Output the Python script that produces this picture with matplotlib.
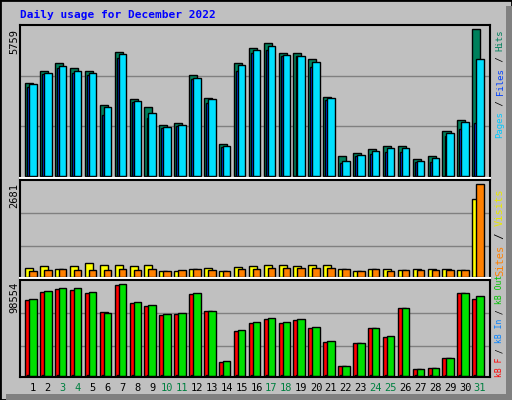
import matplotlib
matplotlib.use("Agg")
import matplotlib.pyplot as plt
from matplotlib.patches import Rectangle

days = list(range(1, 32))
weekend = [3, 4, 10, 11, 17, 18, 24, 25, 31]
hits = [3632,4102,4416,4220,4102,2770,4847,3005,2692,1986,2065,3945,3044,1242,4416,5003,
        5199,4807,4807,4572,3083,784,889,1046,1175,1175,654,784,1763,2182,5759]
files = [3593,4024,4310,4114,4024,2692,4768,2927,2457,1920,1986,3840,3005,1164,4337,4925,
         5082,4729,4690,4455,3044,576,811,968,1085,1085,576,693,1673,2104,4572]
pages = [3475,3996,4220,4024,3957,2378,4612,2888,2261,1869,1959,3812,2848,1124,4114,4807,
         4937,4690,4690,4259,2978,498,772,850,929,929,537,537,1555,1830,2065]
visits = [241,299,212,299,386,328,328,299,328,154,154,212,241,154,270,299,328,328,299,328,
          328,212,154,212,212,183,212,212,212,183,2236]
sites = [154,183,212,183,183,183,212,183,212,154,183,212,183,154,212,212,241,241,241,241,
         241,212,154,212,154,183,183,183,183,183,2681]
kbf = [81292,89925,93162,92083,88846,68343,97475,78055,74818,65106,66185,87767,69422,14388,
       47840,56473,60789,56473,59710,51077,35970,10071,34891,51077,41366,72660,6834,7913,
       18704,88846,82371]
kbout = [82371,91004,94241,94241,89925,67264,98554,79134,75897,66185,67264,88846,69422,15467,
         48919,57552,61868,57552,60789,52156,37049,10071,34891,51077,42445,72660,6834,7913,
         18704,88846,85608]
kbin = [1000,1000,1000,1000,1000,300,1000,300,300,300,300,1000,300,300,1000,1000,1000,1000,
        1000,1000,300,300,300,300,300,300,300,300,300,300,1000]

W, H = 512, 400
fig = plt.figure(figsize=(W/100, H/100), dpi=100)
fig.patch.set_facecolor('#c0c0c0')
fig.add_artist(Rectangle((0, 0), 1, 1, transform=fig.transFigure, fill=False, ec='black', lw=2))
fig.add_artist(Rectangle((506/W, 0), 6/W, 1-6/H, transform=fig.transFigure, fc='#808080', ec='none'))
fig.add_artist(Rectangle((6/W, 0), 1, 6/H, transform=fig.transFigure, fc='#808080', ec='none'))

def ax_px(top, bottom, left=20, right=490):
    a = fig.add_axes([left/W, 1-bottom/H, (right-left)/W, (bottom-top)/H])
    a.set_facecolor('#c0c0c0')
    a.set_xlim(0.13, 31.67)
    a.set_xticks([]); a.set_yticks([])
    for s in a.spines.values():
        s.set_linewidth(1.5)
    a.spines['bottom'].set_color('white')
    return a

mono = 'DejaVu Sans Mono'
ek = dict(edgecolor='black', linewidth=1)

a1 = ax_px(25, 178)
a1.set_ylim(-78, 5916)
for g in (1959, 3918):
    a1.axhline(g, color='#808080', lw=1, zorder=0)
a1.bar([d-0.52 for d in days], hits, width=0.54, align='edge', color='#00805c', **ek)
a1.bar([d-0.38 for d in days], pages, width=0.18, align='edge', color='#0040ff', **ek)
a1.bar([d-0.25 for d in days], files, width=0.5, align='edge', color='#00e0ff', **ek)

a2 = ax_px(180, 278)
a2.set_ylim(-38, 2797)
for g in (879, 1834):
    a2.axhline(g, color='#808080', lw=1, zorder=0)
a2.bar([d-0.52 for d in days], visits, width=0.54, align='edge', color='#ffff00', **ek)
a2.bar([d-0.25 for d in days], sites, width=0.5, align='edge', color='#ff8000', **ek)

a3 = ax_px(280, 377)
a3.spines['bottom'].set_color('black')
a3.set_ylim(-1403, 103260)
for g in (32046, 67330):
    a3.axhline(g, color='#808080', lw=1, zorder=0)
a3.bar([d-0.52 for d in days], kbf, width=0.54, align='edge', color='#ff0000', **ek)
a3.bar([d-0.38 for d in days], kbin, width=0.18, align='edge', color='#0080ff', **ek)
a3.bar([d-0.25 for d in days], kbout, width=0.5, align='edge', color='#00e000', **ek)
for d in days:
    a3.text(d, -0.06, str(d), transform=a3.get_xaxis_transform(), ha='center', va='top',
            fontsize=7.5, family=mono, color='#008040' if d in weekend else 'black')

fig.text(20/W, 1-15/H, 'Daily usage for December 2022', color='#0000ff', fontsize=8,
         family=mono, weight='bold', va='center')
for y, s in ((29, '5759'), (183, '2681'), (282, '98554')):
    fig.text(14/W, 1-y/H, s, rotation=90, ha='center', va='top', fontsize=7.5, family=mono)

def legend(bottom_y, parts, fs):
    cw = 0.602*fs*100/72
    y = bottom_y
    for txt, col in parts:
        fig.text(500/W, 1-y/H, txt, rotation=90, ha='center', va='bottom', fontsize=fs,
                 family=mono, color=col)
        y -= cw*len(txt)

legend(138, [('Pages', '#00c8ff'), (' / ', 'black'), ('Files', '#0040ff'),
             (' / ', 'black'), ('Hits', '#00805c')], 6.5)
legend(276, [('Sites', '#ff8000'), (' / ', 'black'), ('Visits', '#e8e800')], 7.5)
legend(377, [('kB F', '#ff0000'), (' / ', 'black'), ('kB In', '#0080ff'),
             (' / ', 'black'), ('kB Out', '#00c000')], 5.8)

fig.savefig('out.png', dpi=100, facecolor=fig.get_facecolor())
